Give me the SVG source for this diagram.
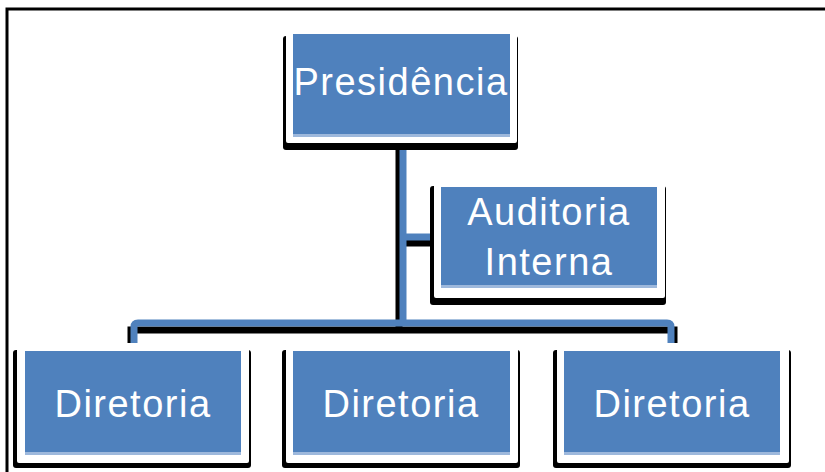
<svg xmlns="http://www.w3.org/2000/svg" width="825" height="472" viewBox="0 0 825 472">
  <style>
    .shadow { fill: #000000; }
    .frame { fill: #ffffff; }
    .box { fill: #4F81BD; }
    .edge { fill: #9DB8DC; }
    .label { font-family: "Liberation Sans", Arial, sans-serif; font-size: 38px; fill: #ffffff; text-anchor: middle; letter-spacing: 1.5px; }
    .wireBlack { fill: none; stroke: #000000; stroke-width: 7; }
    .wireBlue { fill: none; stroke: #4F81BD; stroke-width: 7; stroke-linejoin: round; }
  </style>
  <rect x="0" y="0" width="825" height="472" fill="#ffffff"/>
  <path d="M7 472 V9 H825" fill="none" stroke="#000000" stroke-width="3"/>

  <g id="connectors">
    <path class="wireBlack" d="M399 148 V327"/>
    <path class="wireBlack" d="M401 243 H434"/>
    <path class="wireBlack" d="M131 346 V330 H674 V346"/>
    <path class="wireBlue" d="M403 148 V323"/>
    <path class="wireBlue" d="M403 237 H434"/>
    <path class="wireBlue" d="M134 346 V327 Q134 323 138 323 H667 Q671 323 671 327 V346"/>
  </g>

  <g id="presidencia">
    <rect class="shadow" x="283" y="36" width="235" height="114" rx="3"/>
    <rect class="frame" x="286" y="27" width="231" height="116" rx="2"/>
    <rect class="box" x="293" y="34" width="217" height="103"/>
    <rect class="edge" x="293" y="134" width="217" height="3"/>
    <text class="label" x="401" y="95">Presidência</text>
  </g>

  <g id="auditoria">
    <rect class="shadow" x="430" y="186" width="236" height="119" rx="3"/>
    <rect class="frame" x="434" y="177" width="231" height="121" rx="2"/>
    <rect class="box" x="441" y="187" width="216" height="101"/>
    <rect class="edge" x="441" y="285" width="216" height="3"/>
    <text class="label" x="549" y="225">Auditoria</text>
    <text class="label" x="549" y="275">Interna</text>
  </g>

  <g id="diretoria1">
    <rect class="shadow" x="13" y="350" width="238" height="118" rx="3"/>
    <rect class="frame" x="17" y="343" width="232" height="120" rx="2"/>
    <rect class="box" x="25" y="351" width="216" height="104"/>
    <rect class="edge" x="25" y="452" width="216" height="3"/>
    <text class="label" x="133" y="417">Diretoria</text>
  </g>

  <g id="diretoria2">
    <rect class="shadow" x="282" y="350" width="238" height="118" rx="3"/>
    <rect class="frame" x="286" y="343" width="232" height="120" rx="2"/>
    <rect class="box" x="293" y="351" width="217" height="104"/>
    <rect class="edge" x="293" y="452" width="217" height="3"/>
    <text class="label" x="401" y="417">Diretoria</text>
  </g>

  <g id="diretoria3">
    <rect class="shadow" x="553" y="350" width="238" height="118" rx="3"/>
    <rect class="frame" x="557" y="343" width="232" height="120" rx="2"/>
    <rect class="box" x="564" y="351" width="216" height="104"/>
    <rect class="edge" x="564" y="452" width="216" height="3"/>
    <text class="label" x="672" y="417">Diretoria</text>
  </g>
</svg>
